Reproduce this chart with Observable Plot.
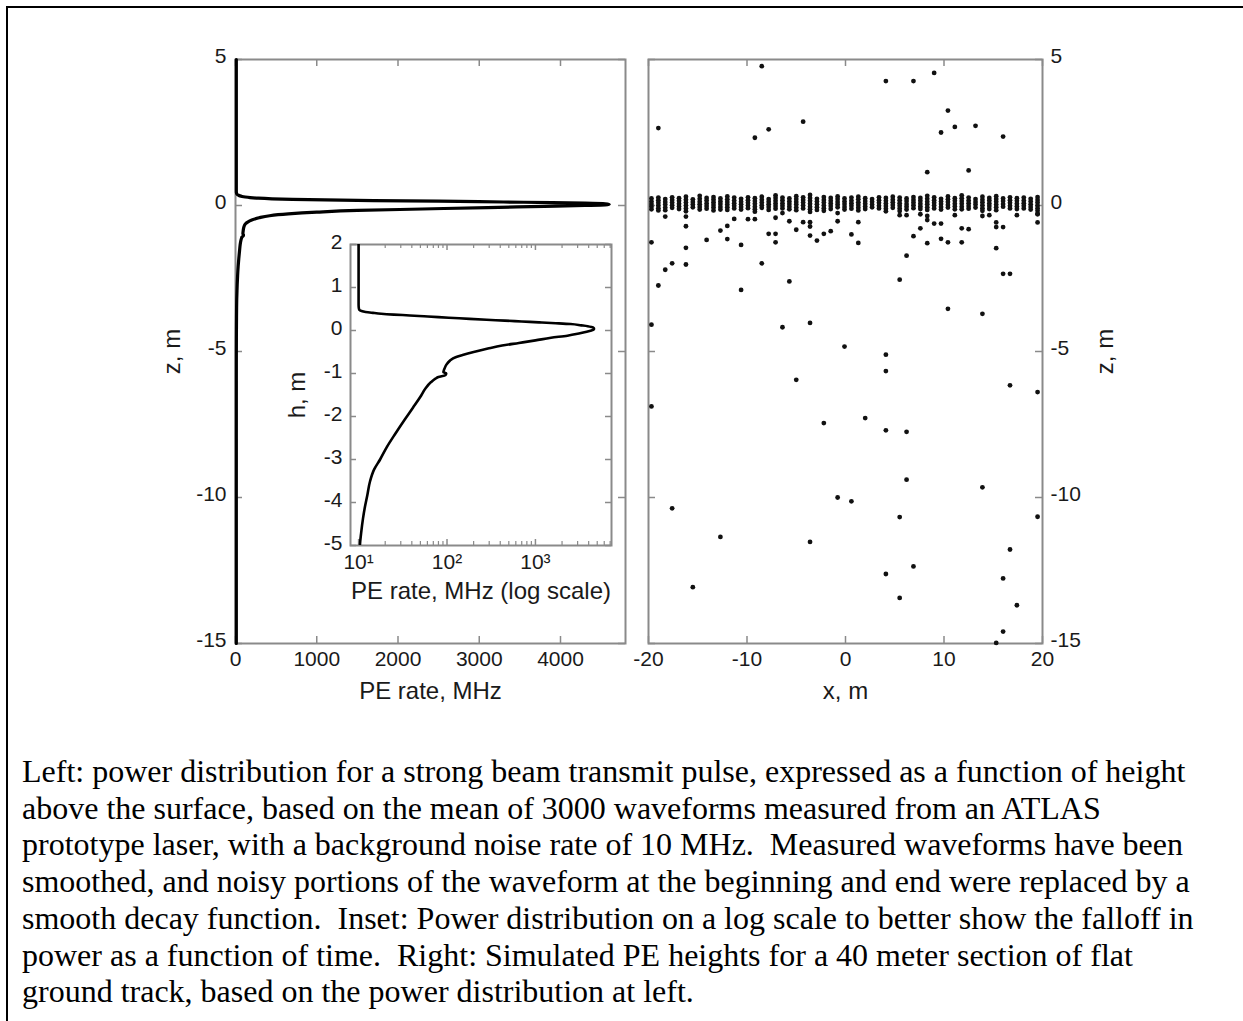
<!DOCTYPE html>
<html><head><meta charset="utf-8">
<script src="https://cdn.jsdelivr.net/npm/d3@7"></script>
<script src="https://cdn.jsdelivr.net/npm/@observablehq/plot@0.6"></script>
<style>
body{margin:0;background:#fff;}
#page{position:relative;width:1243px;height:1021px;overflow:hidden;background:#fff;}
#border{position:absolute;left:6px;top:6px;width:1300px;height:1100px;border-left:2px solid #000;border-top:2px solid #000;}
.panel{position:absolute;}
#caption{position:absolute;left:22px;top:753px;font-family:"Liberation Serif","Times New Roman",serif;font-size:32px;line-height:36.7px;color:#000;white-space:pre;}
</style></head><body>
<div id="page"><div id="border"></div>
<div id="left" class="panel" style="left:0;top:0;width:640px;height:720px"></div>
<div id="right" class="panel" style="left:620px;top:0;width:623px;height:720px"></div>
<div id="inset" class="panel" style="left:280px;top:232px;width:341px;height:393px"></div>
<div id="caption"></div>
</div>
<script>
// ---------- data ----------
// mean transmit-pulse power profile: [height z (m), PE rate (MHz)]
const profile = [
  [5,10],[2,10],[1,10],[0.6,10],[0.5,10.1],[0.46,10.5],[0.43,12],[0.41,14.5],[0.39,18],[0.37,25],
  [0.35,38],[0.33,55],[0.31,80],[0.29,120],[0.27,180],[0.25,280],[0.23,450],[0.21,700],[0.19,1100],
  [0.17,1700],[0.15,2500],[0.12,3300],[0.10,3900],[0.08,4300],[0.06,4550],[0.04,4600],[0.02,4550],
  [0.0,4300],[-0.03,3800],[-0.07,3100],[-0.12,2300],[-0.17,1500],[-0.23,1000],[-0.29,650],[-0.35,420],
  [-0.42,290],[-0.5,200],[-0.57,150],[-0.62,125],[-0.7,108],[-0.8,98],[-0.88,94],[-0.93,92],[-0.97,91],
  [-1.0,98],[-1.04,96],[-1.08,80],[-1.12,74],[-1.2,66],[-1.35,57],[-1.54,50],[-1.8,41],[-2.08,33],
  [-2.4,26],[-2.7,21],[-3.0,17.5],[-3.23,15],[-3.5,13.5],[-3.85,12.5],[-4.1,11.8],[-4.38,11.2],
  [-4.7,10.7],[-5.0,10.35],[-6,10.15],[-8,10.05],[-10,10.02],[-12.5,10.01],[-15,10]
];
const leftXTicks = [0, 1000, 2000, 3000, 4000];
const zTicks = [5, 0, -5, -10, -15];
const rightXTicks = [-20, -10, 0, 10, 20];
const insetXTicks = [10, 100, 1000];
const insetXTickLabels = ["10\u00B9", "10\u00B2", "10\u00B3"];
const insetXMinor = [20,30,40,50,60,70,80,90,200,300,400,500,600,700,800,900,2000,3000,4000,5000,6000,7000];
const insetYTicks = [2, 1, 0, -1, -2, -3, -4, -5];

// simulated photon heights: shot columns along track (m) and the heights in each column (m)
const bandX = [-19.7,-19.0,-18.3,-17.6,-16.9,-16.2,-15.5,-14.8,-14.1,-13.4,-12.7,-12.0,-11.3,-10.6,-9.9,-9.2,-8.5,-7.8,-7.1,-6.4,-5.7,-5.0,-4.3,-3.6,-2.9,-2.2,-1.5,-0.8,-0.1,0.6,1.3,2.0,2.7,3.4,4.1,4.8,5.5,6.2,6.9,7.6,8.3,9.0,9.7,10.4,11.1,11.8,12.5,13.2,13.9,14.6,15.3,16.0,16.7,17.4,18.1,18.8,19.5];
const bandZ = [
[0.24,0.14,0.05,-0.04,-0.13],[0.27,0.18,0.09,0.0,-0.09,-0.17],[0.22,0.12,0.03,-0.07,-0.16],
[0.28,0.19,0.1,0.01,-0.08],[0.25,0.16,0.06,-0.03,-0.12],[0.3,0.2,0.1,0.0,-0.1,-0.2],
[0.21,0.12,0.03,-0.06],[0.33,0.23,0.13,0.04,-0.05,-0.14],[0.26,0.17,0.07,-0.02,-0.11],
[0.29,0.2,0.11,0.02,-0.07,-0.17],[0.24,0.14,0.05,-0.05,-0.14],[0.31,0.21,0.12,0.03,-0.06,-0.15],
[0.27,0.17,0.08,-0.01,-0.1],[0.23,0.13,0.04,-0.05,-0.14],[0.28,0.18,0.09,0.0,-0.09],
[0.25,0.15,0.06,-0.04,-0.13,-0.21],[0.3,0.2,0.1,0.01,-0.08],[0.22,0.13,0.04,-0.05,-0.15],
[0.35,0.26,0.16,0.07,-0.02,-0.11],[0.27,0.18,0.08,-0.01,-0.1],[0.24,0.14,0.05,-0.04,-0.13],
[0.32,0.22,0.12,0.03,-0.07,-0.16],[0.28,0.19,0.1,0.0,-0.1],[0.36,0.26,0.16,0.06,-0.04,-0.13,-0.22],
[0.23,0.14,0.04,-0.06,-0.15],[0.29,0.19,0.1,0.0,-0.09,-0.18],[0.26,0.16,0.07,-0.02,-0.12],
[0.31,0.22,0.12,0.03,-0.06],[0.24,0.14,0.05,-0.05,-0.14],[0.27,0.17,0.08,-0.01,-0.11],
[0.3,0.21,0.11,0.02,-0.08,-0.17],[0.25,0.15,0.06,-0.03,-0.12],[0.22,0.13,0.03,-0.06],
[0.28,0.18,0.09,-0.01,-0.1],[0.26,0.16,0.07,-0.02,-0.11,-0.2],[0.3,0.2,0.11,0.02,-0.08],
[0.27,0.18,0.08,-0.01,-0.1,-0.19],[0.24,0.15,0.05,-0.04,-0.14],[0.29,0.19,0.1,0.01,-0.09],
[0.26,0.16,0.06,-0.03,-0.12],[0.33,0.23,0.13,0.04,-0.06,-0.15],[0.28,0.18,0.09,0.0,-0.1],
[0.23,0.14,0.05,-0.05,-0.14],[0.31,0.21,0.12,0.02,-0.07],[0.25,0.16,0.06,-0.03,-0.13],
[0.35,0.25,0.15,0.06,-0.04,-0.13],[0.27,0.17,0.08,-0.02,-0.11],[0.22,0.12,0.03,-0.07],
[0.3,0.2,0.11,0.01,-0.09,-0.18],[0.26,0.17,0.07,-0.02,-0.12],[0.32,0.22,0.13,0.03,-0.06,-0.16],
[0.24,0.15,0.05,-0.04],[0.28,0.18,0.09,-0.01,-0.1],[0.25,0.16,0.06,-0.03,-0.12],
[0.27,0.17,0.08,-0.01,-0.1],[0.23,0.14,0.04,-0.05,-0.14],[0.29,0.19,0.1,0.0,-0.09,-0.18,-0.28]
];
// scattered (noise / tail) photons: x (m), z (m)
const outX = [-8.5,-19.0,-9.2,-7.8,-4.3,4.1,6.9,9.0,10.4,9.7,11.1,13.2,16.0,8.3,12.5,
  -19.7,-19.0,-18.3,-17.6,-19.7,-19.7,-16.2,-16.2,-16.2,-16.2,-18.3,-14.1,-12.7,-12.0,-12.0,-11.3,
  -10.6,-10.6,-9.9,-9.2,-8.5,-7.8,-7.1,-7.1,-7.1,-6.4,-5.7,-5.7,-6.4,-5.0,-5.0,-4.3,-3.6,-3.6,-3.6,
  -2.9,-3.6,-2.2,-1.5,-2.2,-0.8,-0.8,-0.1,0.6,1.3,1.3,2.0,4.1,4.1,4.1,5.5,6.2,5.5,6.2,6.9,7.6,7.6,
  8.3,8.3,8.3,9.0,9.7,9.7,10.4,10.4,11.1,11.8,12.5,11.8,13.9,13.9,14.6,15.3,15.3,16.0,15.3,16.0,
  16.7,16.7,17.4,19.5,19.5,19.5,
  6.2,6.2,-0.8,0.6,5.5,13.9,19.5,-17.6,-12.7,-3.6,16.7,4.1,6.9,16.0,-15.5,5.5,17.4,16.0,15.3];
const outZ = [4.77,2.65,2.32,2.61,2.87,4.26,4.26,4.54,3.25,2.5,2.69,2.73,2.36,1.14,1.2,
  -1.26,-2.74,-2.2,-1.98,-4.08,-6.88,-0.38,-0.71,-1.45,-2.02,-0.38,-1.18,-0.86,-0.7,-1.15,-0.46,
  -1.35,-2.89,-0.47,-0.47,-1.98,-0.97,-0.97,-1.26,-0.42,-0.26,-0.54,-2.6,-4.17,-0.83,-5.97,-0.57,-0.57,-0.72,-1.03,
  -1.2,-4.02,-0.97,-0.88,-7.45,-0.26,-0.54,-4.83,-0.99,-0.57,-1.28,-7.28,-5.11,-5.67,-7.7,-0.33,-0.33,-2.54,-1.72,-1.05,-0.78,-0.3,
  -0.36,-0.5,-1.29,-0.62,-0.62,-1.14,-1.26,-3.54,-0.33,-0.78,-0.81,-1.26,-3.71,-0.36,-0.33,-0.58,-0.74,-0.74,-1.46,-2.34,
  -2.34,-6.16,-0.33,-0.3,-0.58,-6.39,
  -7.75,-9.39,-10.0,-10.13,-10.67,-9.65,-10.66,-10.37,-11.35,-11.52,-11.78,-12.62,-12.36,-12.77,-13.07,-13.44,-13.69,-14.59,-14.98];

const captionLines = [
  "Left: power distribution for a strong beam transmit pulse, expressed as a function of height",
  "above the surface, based on the mean of 3000 waveforms measured from an ATLAS",
  "prototype laser, with a background noise rate of 10 MHz.  Measured waveforms have been",
  "smoothed, and noisy portions of the waveform at the beginning and end were replaced by a",
  "smooth decay function.  Inset: Power distribution on a log scale to better show the falloff in",
  "power as a function of time.  Right: Simulated PE heights for a 40 meter section of flat",
  "ground track, based on the power distribution at left."
];

// ---------- tables ----------
const profileRows = profile.map(([z, rate]) => ({z, rate}));
const photons = [];
bandX.forEach((x, i) => (bandZ[i] || []).forEach(z => photons.push({x, z})));
outX.forEach((x, i) => photons.push({x, z: outZ[i]}));

// ---------- style ----------
const FRAME = "#8a8a8a";
const TICKLEN = 7;
const font = {fontFamily: "'Liberation Sans', Arial, Helvetica, sans-serif", fontSize: "21px",
  color: "#1a1a1a", background: "transparent", overflow: "visible", maxWidth: "none"};
const fmt = d => String(d);
const lbl = {fontSize: 24, textAnchor: "middle", text: d => d};

function frameTicks(xTicks, yTicks, iw, ih, len, extra = {}) {
  const s = {stroke: FRAME, strokeWidth: 1.5, ...extra};
  return [
    Plot.tickX(xTicks, {x: d => d, insetTop: ih - len, ...s}),
    Plot.tickX(xTicks, {x: d => d, insetBottom: ih - len, ...s}),
    Plot.tickY(yTicks, {y: d => d, insetRight: iw - len, ...s}),
    Plot.tickY(yTicks, {y: d => d, insetLeft: iw - len, ...s})
  ];
}

// ---------- left panel ----------
{
  const W = 640, H = 720, m = {l: 235, r: 15, t: 59, b: 77};
  const iw = W - m.l - m.r, ih = H - m.t - m.b;
  const p = Plot.plot({
    width: W, height: H, marginLeft: m.l, marginRight: m.r, marginTop: m.t, marginBottom: m.b,
    style: font,
    x: {domain: [0, 4800], label: null},
    y: {domain: [-15, 5], label: null},
    marks: [
      Plot.frame({stroke: FRAME, strokeWidth: 2}),
      ...frameTicks(leftXTicks, zTicks, iw, ih, TICKLEN),
      Plot.line(profileRows, {x: "rate", y: "z", stroke: "#000", strokeWidth: 3.2, curve: "monotone-y"}),
      Plot.axisX(leftXTicks, {anchor: "bottom", tickSize: 0, tickPadding: 8, tickFormat: fmt, label: null}),
      Plot.axisY(zTicks, {anchor: "left", tickSize: 0, tickPadding: 9, tickFormat: fmt, label: null, dy: -3}),
      Plot.text(["PE rate, MHz"], {frameAnchor: "bottom", lineAnchor: "bottom", dy: 55, ...lbl}),
      Plot.text(["z, m"], {frameAnchor: "left", rotate: -90, dx: -63, ...lbl})
    ]
  });
  document.getElementById("left").append(p);
}

// ---------- right panel ----------
{
  const W = 623, H = 720, m = {l: 28, r: 201, t: 59, b: 77};
  const iw = W - m.l - m.r, ih = H - m.t - m.b;
  const p = Plot.plot({
    width: W, height: H, marginLeft: m.l, marginRight: m.r, marginTop: m.t, marginBottom: m.b,
    style: font,
    x: {domain: [-20, 20], label: null},
    y: {domain: [-15, 5], label: null},
    marks: [
      Plot.frame({stroke: FRAME, strokeWidth: 2}),
      ...frameTicks(rightXTicks, zTicks, iw, ih, TICKLEN),
      Plot.dot(photons, {x: "x", y: "z", r: 2.4, fill: "#111", stroke: null}),
      Plot.axisX(rightXTicks, {anchor: "bottom", tickSize: 0, tickPadding: 8, tickFormat: fmt, label: null}),
      Plot.axisY(zTicks, {anchor: "right", tickSize: 0, tickPadding: 8, tickFormat: fmt, label: null, dy: -3}),
      Plot.text(["x, m"], {frameAnchor: "bottom", lineAnchor: "bottom", dy: 55, ...lbl}),
      Plot.text(["z, m"], {frameAnchor: "right", rotate: -90, dx: 63, ...lbl})
    ]
  });
  document.getElementById("right").append(p);
}

// ---------- inset ----------
{
  const W = 341, H = 393, m = {l: 70, r: 10, t: 12, b: 80};
  const iw = W - m.l - m.r, ih = H - m.t - m.b;
  const p = Plot.plot({
    width: W, height: H, marginLeft: m.l, marginRight: m.r, marginTop: m.t, marginBottom: m.b,
    style: font,
    x: {type: "log", domain: [8.1, 7250], label: null},
    y: {domain: [-5, 2], label: null},
    marks: [
      Plot.frame({fill: "#fff", stroke: FRAME, strokeWidth: 2}),
      ...frameTicks(insetXTicks, insetYTicks, iw, ih, 6),
      Plot.tickX(insetXMinor, {x: d => d, insetTop: ih - 4, stroke: FRAME, strokeWidth: 1.2}),
      Plot.tickX(insetXMinor, {x: d => d, insetBottom: ih - 4, stroke: FRAME, strokeWidth: 1.2}),
      Plot.line(profileRows, {x: "rate", y: "z", stroke: "#000", strokeWidth: 2.6, curve: "monotone-y", clip: true}),
      Plot.axisX(insetXTicks, {anchor: "bottom", tickSize: 0, tickPadding: 9,
        tickFormat: d => insetXTickLabels[insetXTicks.indexOf(d)], label: null}),
      Plot.axisY(insetYTicks, {anchor: "left", tickSize: 0, tickPadding: 8, tickFormat: fmt, label: null, dy: -2}),
      Plot.text(["PE rate, MHz (log scale)"], {frameAnchor: "bottom", lineAnchor: "bottom", dy: 53, ...lbl}),
      Plot.text(["h, m"], {frameAnchor: "left", rotate: -90, dx: -53, ...lbl})
    ]
  });
  document.getElementById("inset").append(p);
}

document.getElementById("caption").textContent = captionLines.join("\n");
</script>
</body></html>
